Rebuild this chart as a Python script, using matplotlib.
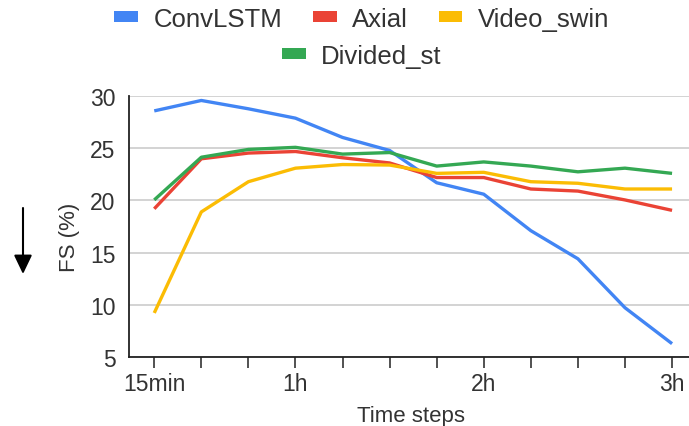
import numpy as np
import matplotlib.pyplot as plt
from matplotlib.patches import Patch, FancyArrowPatch

plt.rcParams['font.family'] = ['Liberation Sans', 'DejaVu Sans']

# 15 minute steps from 15min to 3h
steps = np.arange(12)
tick_labels = {0: "15min", 3: "1h", 7: "2h", 11: "3h"}

conv_lstm = [28.6, 29.6, 28.8, 27.9, 26.05, 24.8, 21.7, 20.6, 17.1, 14.4, 9.7, 6.25]
axial = [19.2, 24.0, 24.55, 24.7, 24.1, 23.6, 22.2, 22.2, 21.1, 20.9, 20.05, 19.05]
video_swin = [9.2, 18.9, 21.8, 23.1, 23.45, 23.4, 22.6, 22.7, 21.8, 21.65, 21.1, 21.1]
divided_st = [20.05, 24.15, 24.9, 25.1, 24.45, 24.6, 23.3, 23.7, 23.3, 22.75, 23.1, 22.6]

names = ["ConvLSTM", "Axial", "Video_swin", "Divided_st"]
colors = ["#4285F4", "#EA4335", "#FBBC04", "#34A853"]

W, H = 689, 427
fig = plt.figure(figsize=(W / 100, H / 100), dpi=100)
left, right, top, bottom = 129.3, 689, 97.3, 357.7
ax = fig.add_axes([left / W, 1 - bottom / H, (right - left) / W, (bottom - top) / H])

for vals, c in zip([conv_lstm, axial, video_swin, divided_st], colors):
    ax.plot(steps, vals, color=c, lw=2.4, solid_capstyle='butt', clip_on=False)

ax.set_ylim(5, 30)
ax.set_xlim(-0.53, 11.36)
ax.set_yticks([5, 10, 15, 20, 25, 30])
ax.yaxis.grid(True, color='#cccccc', lw=1.2)
ax.set_axisbelow(True)
ax.tick_params(axis='y', length=0, pad=10, labelsize=16.5, labelcolor='#333333')

ax.set_xticks(steps)
ax.set_xticklabels([tick_labels.get(i, "") for i in steps])
ax.tick_params(axis='x', direction='out', length=8, width=1.1, color='#222222',
               pad=3, labelsize=16.5, labelcolor='#333333')

for s in ['top', 'right']:
    ax.spines[s].set_visible(False)
for s in ['left', 'bottom']:
    ax.spines[s].set_color('#222222')
    ax.spines[s].set_linewidth(1.3)

fig.text(411 / W, 1 - 416.5 / H, "Time steps", ha='center', va='center',
         fontsize=16, color='#333333')
fig.text(70 / W, 1 - 237 / H, "FS (%)", ha='center', va='center', rotation=90,
         fontsize=16, color='#333333')

# downward arrow beside the y axis
fig.patches.append(FancyArrowPatch(
    (23 / W, 1 - 209 / H), (23 / W, 1 - 275 / H), transform=fig.transFigure,
    arrowstyle='-|>,head_length=1.15,head_width=0.55', mutation_scale=10,
    shrinkA=0, shrinkB=0, color='black', lw=1.5))

handles = [Patch(facecolor=c, edgecolor='none') for c in colors]
leg_kw = dict(frameon=False, fontsize=18.5, handlelength=0.92, handleheight=0.27,
              handletextpad=0.6, columnspacing=1.2, borderaxespad=0, labelcolor='#333333')
fig.legend(handles[:3], names[:3], loc='center', ncol=3,
           bbox_to_anchor=(0.525, 1 - 20 / H), **leg_kw)
fig.legend(handles[3:], names[3:], loc='center', ncol=1,
           bbox_to_anchor=(0.525, 1 - 57 / H), **leg_kw)

fig.savefig("out.png", dpi=100)
